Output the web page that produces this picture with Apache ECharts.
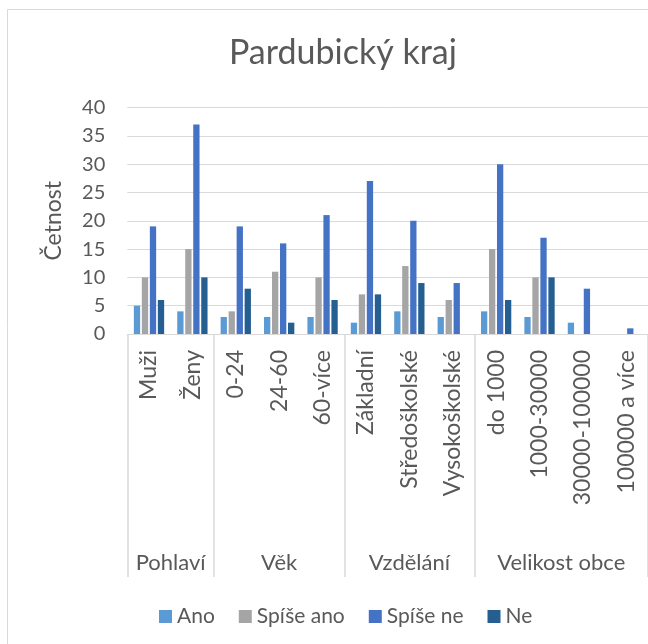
<!DOCTYPE html>
<html>
<head>
<meta charset="utf-8">
<script src="https://cdn.jsdelivr.net/npm/echarts@6/dist/echarts.min.js"></script>
<style>
html,body{margin:0;padding:0;background:#fff;}
#c{width:648px;height:644px;}
</style>
</head>
<body>
<div id="c"></div>
<script>
const categories = ['Muži','Ženy','0-24','24-60','60-více','Základní','Středoškolské','Vysokoškolské','do 1000','1000-30000','30000-100000','100000 a více'];
const groupNames = ['Pohlaví','Věk','Vzdělání','Velikost obce'];
const groupSizes = [2,3,3,4];
const seriesNames = ['Ano','Spíše ano','Spíše ne','Ne'];
const ano      = [5, 4, 3, 3, 3, 2, 4, 3, 4, 3, 2, 0];
const spiseAno = [10,15, 4,11,10, 7,12, 6,15,10, 0, 0];
const spiseNe  = [19,37,19,16,21,27,20, 9,30,17, 8, 1];
const ne       = [6, 10, 8, 2, 6, 7, 9, 0, 6,10, 0, 0];
const yTicks = [0,5,10,15,20,25,30,35,40];

const colors = ['#5b9bd5','#a5a5a5','#4472c4','#255e91'];
const txt = '#595959';
const font = 'Lato';

// group boundaries and centres (in category units)
const bounds = [0];
groupSizes.forEach(s => bounds.push(bounds[bounds.length-1] + s));
const centers = groupSizes.map((s,i) => bounds[i] + s/2);

const chart = echarts.init(document.getElementById('c'), null, {renderer:'canvas'});
const values = [ano, spiseAno, spiseNe, ne];
chart.setOption({
  animation:false,
  textStyle:{fontFamily:font},
  graphic:[{type:'rect', shape:{x:7.5,y:9.5,width:700,height:700}, style:{fill:'none', stroke:'#d9d9d9', lineWidth:1}, silent:true, z:-1}],
  title:{text:'Pardubický kraj', left:224, top:31, textStyle:{fontFamily:font, fontSize:34, fontWeight:'normal', color:txt}},
  legend:{data:seriesNames, left:154, top:601, itemWidth:13, itemHeight:13, itemGap:24, icon:'rect',
    textStyle:{fontFamily:font, fontSize:21, color:txt}},
  grid:{left:127.3, top:107.5, width:526, height:226.5, containLabel:false},
  xAxis:[{
    type:'category', data:categories,
    axisLine:{show:true, lineStyle:{color:'#d9d9d9', width:1}},
    axisTick:{show:false},
    axisLabel:{rotate:90, margin:16, interval:0, fontFamily:font, fontSize:23, color:txt}
  },{
    type:'value', min:0, max:bounds[bounds.length-1], position:'bottom',
    axisLine:{show:false},
    splitLine:{show:false},
    axisTick:{show:true, customValues:bounds, length:243, lineStyle:{color:'#d9d9d9', width:1.5}},
    axisLabel:{show:true, customValues:centers, margin:218, fontFamily:font, fontSize:22, color:txt,
      formatter:function(v){ const i = centers.indexOf(v); return i>=0 ? groupNames[i] : ''; }}
  }],
  yAxis:{
    type:'value', min:yTicks[0], max:yTicks[yTicks.length-1], interval:5,
    name:'Četnost', nameLocation:'middle', nameRotate:90, nameGap:62,
    nameTextStyle:{fontFamily:font, fontSize:23, color:txt},
    axisLine:{show:false}, axisTick:{show:false},
    axisLabel:{margin:22, fontFamily:font, fontSize:20, color:txt},
    splitLine:{lineStyle:{color:'#d9d9d9', width:1}}
  },
  series: seriesNames.map((n,i) => ({
    name:n, type:'bar', data:values[i], xAxisIndex:0,
    barWidth:6.3, barGap:'27%',
    itemStyle:{color:colors[i]}
  }))
});
</script>
</body>
</html>
